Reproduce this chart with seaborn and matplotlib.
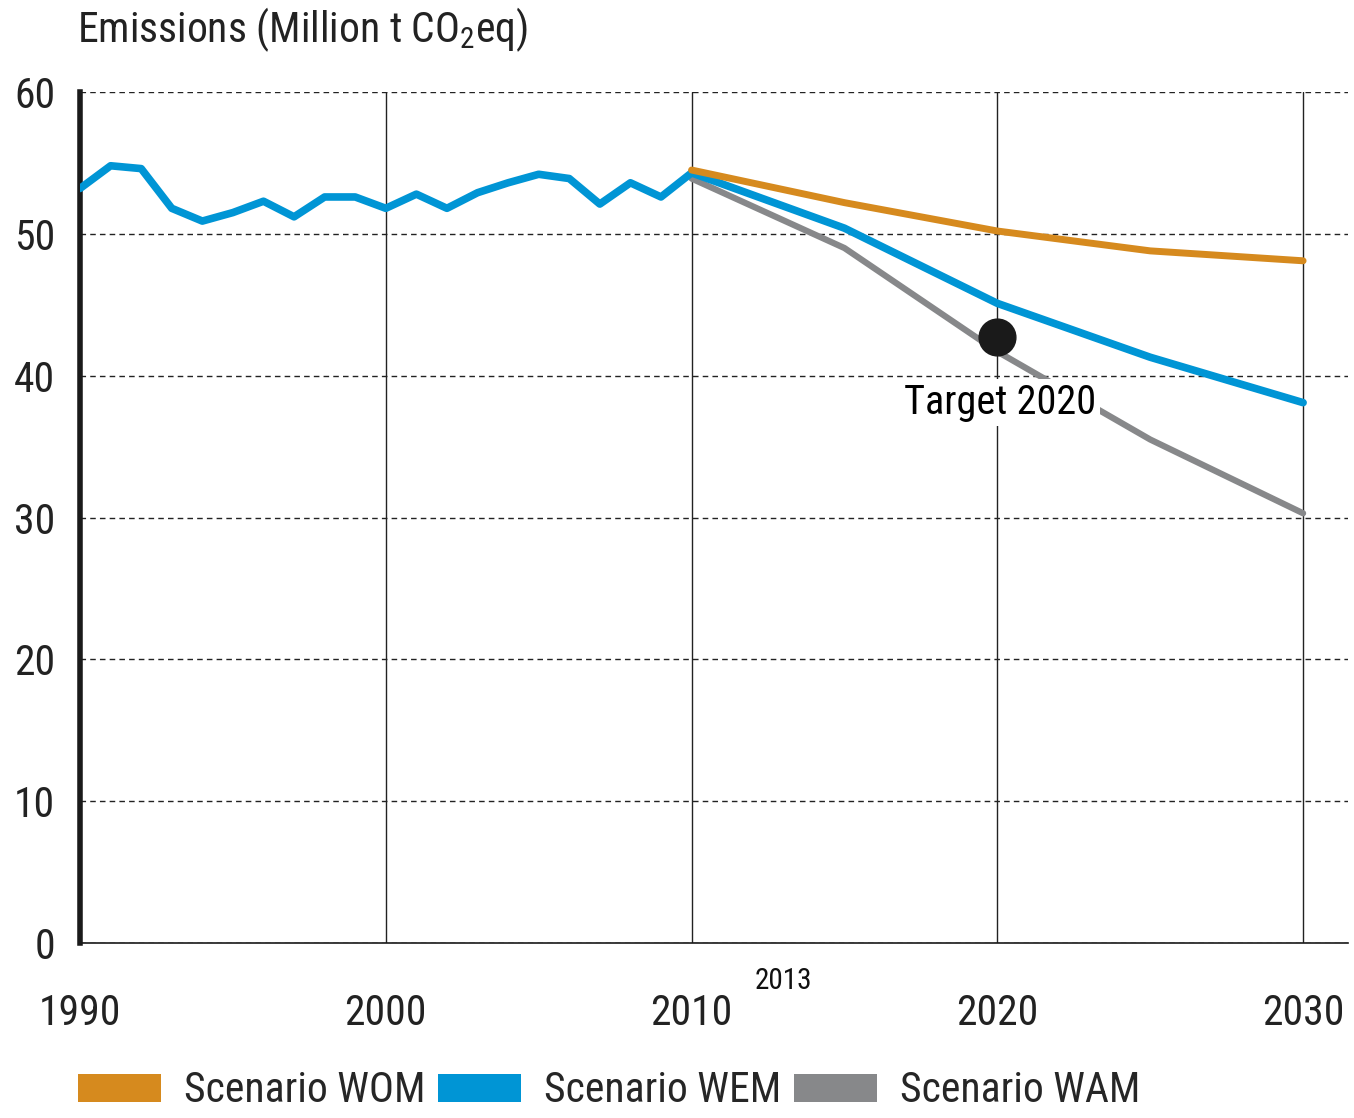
import matplotlib
matplotlib.use('Agg')
import matplotlib.pyplot as plt
from matplotlib.patches import Patch
import seaborn as sns
import pandas as pd

# historical emissions 1990-2010 (Million t CO2eq)
years_hist = list(range(1990, 2011))
emis_hist = [53.2, 54.8, 54.6, 51.8, 50.9, 51.5, 52.3, 51.2, 52.6, 52.6, 51.8,
             52.8, 51.8, 52.9, 53.6, 54.2, 53.9, 52.1, 53.6, 52.6, 54.3]

# scenario projections
years_proj = [2010, 2015, 2020, 2025, 2030]
wom = [54.5, 52.2, 50.2, 48.8, 48.1]
wem = [54.3, 50.4, 45.1, 41.3, 38.1]
wam = [53.9, 49.0, 41.7, 35.5, 30.3]

target_year = [2020]
target_value = [42.7]

scenario_names = ['Scenario WOM', 'Scenario WEM', 'Scenario WAM']
colors = ['#D68A1E', '#0095D5', '#87888A']

sns.set_theme(style='white')
fam = ['Roboto Condensed', 'DejaVu Sans']
plt.rcParams['font.family'] = fam
plt.rcParams['mathtext.fontset'] = 'custom'
plt.rcParams['mathtext.rm'] = fam[0]
plt.rcParams['mathtext.it'] = fam[0]

df_hist = pd.DataFrame({'ano': years_hist, 'emis': emis_hist})
df_proj = pd.DataFrame({'ano': years_proj, 'WOM': wom, 'WEM': wem, 'WAM': wam})

fig = plt.figure(figsize=(13.54, 11.18), dpi=100)
ax = fig.add_axes([0.0591, 0.1565, 0.9365, 0.7612])

# grids
ax.set_axisbelow(True)
ax.yaxis.grid(True, linestyle=(0, (4, 3)), color='#222222', linewidth=1.0)
ax.xaxis.grid(True, linestyle='-', color='#222222', linewidth=1.0)

sns.lineplot(data=df_proj, x='ano', y='WAM', color=colors[2], linewidth=4.5, ax=ax, zorder=3)
sns.lineplot(data=df_proj, x='ano', y='WEM', color=colors[1], linewidth=5.5, ax=ax, zorder=4)
sns.lineplot(data=df_hist, x='ano', y='emis', color=colors[1], linewidth=5.5, ax=ax, zorder=4)
sns.lineplot(data=df_proj, x='ano', y='WOM', color=colors[0], linewidth=5.0, ax=ax, zorder=5)

ax.scatter(target_year, target_value, s=700, color='#1a1a1a', zorder=6)
ax.text(2020.1, 38.1, 'Target 2020', fontsize=29, ha='center', va='center',
        color='black', zorder=5, bbox=dict(facecolor='white', edgecolor='none', pad=3))

ax.set_xlim(1990, 2031.47)
ax.set_ylim(0, 60)
ax.set_xticks([1990, 2000, 2010, 2020, 2030])
ax.set_yticks([0, 10, 20, 30, 40, 50, 60])
ax.tick_params(axis='both', length=0, labelsize=30, colors='#222222')
ax.tick_params(axis='y', pad=18)
ax.tick_params(axis='x', pad=36)
ax.set_xlabel('')
ax.set_ylabel('')

for s in ['top', 'right']:
    ax.spines[s].set_visible(False)
ax.spines['left'].set_linewidth(4)
ax.spines['left'].set_color('#1a1a1a')
ax.spines['bottom'].set_linewidth(1.2)
ax.spines['bottom'].set_color('#1a1a1a')

ax.text(2013, -2.7, '2013', fontsize=21, ha='center', va='center', color='#111111')

fig.text(0.057, 0.973, 'Emissions (Million t CO$_2$eq)', fontsize=30,
         ha='left', va='center', color='#222222')

handles = [Patch(facecolor=c, edgecolor='none') for c in colors]
fig.legend(handles, scenario_names, loc='lower left', bbox_to_anchor=(0.045, -0.009),
           ncol=3, frameon=False, fontsize=30, handlelength=2.0, handleheight=0.65,
           handletextpad=0.55, columnspacing=0.3, borderaxespad=0)

fig.savefig('out.png', dpi=100)
